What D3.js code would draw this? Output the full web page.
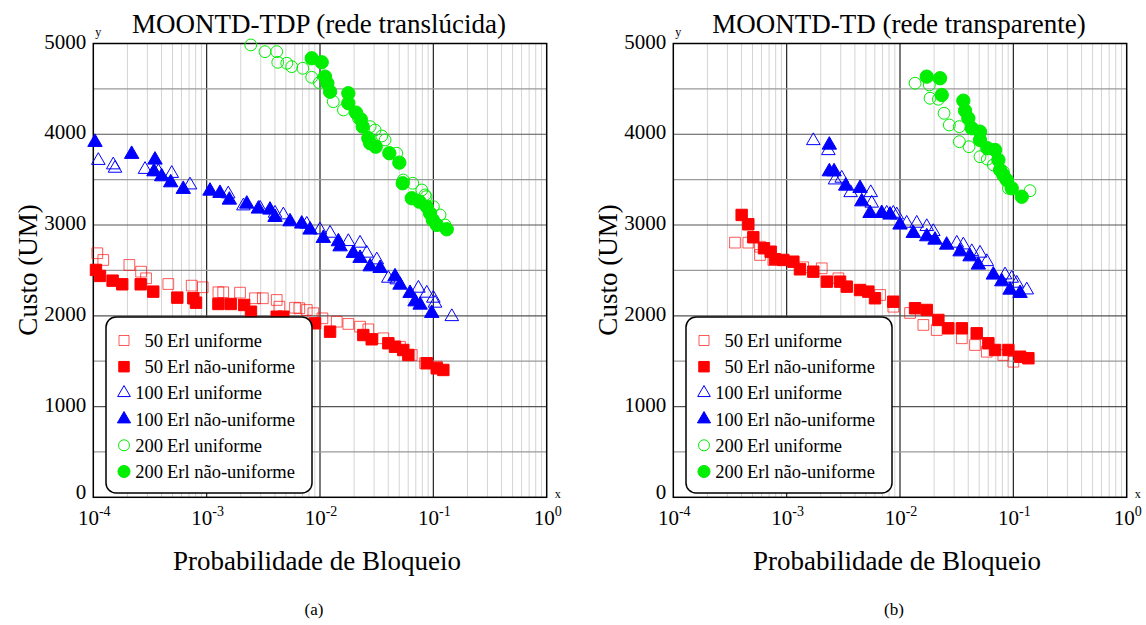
<!DOCTYPE html>
<html><head><meta charset="utf-8">
<script src="https://cdn.jsdelivr.net/npm/d3@7"></script>
<style>body{margin:0;background:#fff}</style>
</head><body><svg id="c" width="1146" height="625"></svg>
<script>
const titles = ["MOONTD-TDP (rede translúcida)", "MOONTD-TD (rede transparente)"];
const captions = ["(a)", "(b)"];
const xLabel = "Probabilidade de Bloqueio";
const yLabel = "Custo (UM)";
const xTickExps = [-4, -3, -2, -1, 0];
const yTicks = [0, 1000, 2000, 3000, 4000, 5000];
const legendNums = ["50", "50", "100", "100", "200", "200"];
const legendTexts = ["Erl uniforme", "Erl não-uniforme", "Erl uniforme", "Erl não-uniforme", "Erl uniforme", "Erl não-uniforme"];

// Panel (a): MOONTD-TDP  [blocking probability, cost]
const tdp50u = [[1.085e-4,2689],[1.225e-4,2615],[2.08e-4,2560],[2.64e-4,2486],[2.92e-4,2413],[4.59e-4,2350],[7.38e-4,2332],[9.23e-4,2314],[1.27e-3,2259],[1.40e-3,2259],[1.97e-3,2255],[2.67e-3,2193],[3.13e-3,2193],[4.15e-3,2174],[4.38e-3,2100],[6.02e-3,2089],[6.57e-3,2083],[7.64e-3,2064],[8.73e-3,2028],[0.0105,1972],[0.01405,1935],[0.01778,1910],[0.02256,1880],[0.0267,1851],[0.0362,1752],[0.0508,1659],[0.0645,1568],[0.0845,1477],[0.1072,1439]];
const tdp50n = [[1.056e-4,2505],[1.146e-4,2439],[1.48e-4,2387],[1.80e-4,2347],[2.62e-4,2347],[3.38e-4,2266],[5.51e-4,2200],[7.63e-4,2193],[8.06e-4,2144],[1.27e-3,2130],[1.63e-3,2130],[2.14e-3,2119],[2.46e-3,2045],[4.15e-3,1990],[4.75e-3,1990],[9.04e-3,1917],[0.01227,1825],[0.0241,1788],[0.0286,1741],[0.0401,1697],[0.0459,1659],[0.0543,1623],[0.0602,1568],[0.0875,1477],[0.1072,1421],[0.1225,1403]];
const tdp100u = [[1.107e-4,3711],[1.50e-4,3662],[1.554e-4,3625],[2.86e-4,3612],[3.75e-4,3588],[4.92e-4,3568],[7.13e-4,3441],[1.55e-3,3342],[2.11e-3,3210],[2.96e-3,3185],[4.01e-3,3129],[4.75e-3,3111],[7.64e-3,3008],[0.00999,2946],[0.01227,2909],[0.01778,2817],[0.02256,2799],[0.0258,2689],[0.0317,2615],[0.0401,2413],[0.0475,2395],[0.0738,2303],[0.0875,2248],[0.1,2193],[0.1035,2138],[0.1454,1990]];
const tdp100n = [[1.035e-4,3912],[2.18e-4,3780],[3.50e-4,3717],[3.43e-4,3588],[4.01e-4,3533],[4.82e-4,3467],[6.22e-4,3394],[1.07e-3,3375],[1.31e-3,3350],[1.585e-3,3276],[2.26e-3,3232],[2.86e-3,3177],[3.62e-3,3166],[4.01e-3,3085],[5.44e-3,3037],[6.90e-3,3012],[8.17e-3,2946],[0.0107,2854],[0.01452,2817],[0.01503,2761],[0.01968,2689],[0.02256,2634],[0.0277,2541],[0.0339,2523],[0.0459,2431],[0.0508,2339],[0.0623,2248],[0.0690,2155],[0.0764,2119],[0.0968,2028]];
const tdp200u = [[0.00245,4984],[0.00327,4910],[0.00415,4910],[0.00424,4793],[0.00509,4782],[0.00563,4745],[0.00705,4727],[0.00845,4628],[0.00986,4569],[0.0131,4359],[0.0161,4268],[0.0218,4176],[0.0277,4084],[0.0306,4047],[0.0351,3981],[0.0375,3937],[0.0475,3791],[0.0543,3496],[0.0658,3460],[0.0791,3386],[0.0845,3331],[0.0862,3312],[0.1,3202],[0.1146,3111],[0.1267,3001]];
const tdp200n = [[0.00845,4837],[0.01035,4793],[0.01107,4635],[0.01161,4562],[0.01227,4469],[0.01778,4452],[0.01778,4342],[0.0208,4238],[0.0229,4165],[0.0238,4084],[0.0267,3956],[0.0277,3901],[0.0310,3863],[0.0409,3791],[0.0501,3687],[0.0537,3460],[0.0645,3295],[0.0753,3257],[0.0875,3202],[0.0935,3129],[0.0989,3056],[0.1072,3001],[0.1313,2953]];

// Panel (b): MOONTD-TD
const td50u = [[3.50e-4,2806],[4.59e-4,2806],[5.82e-4,2761],[5.82e-4,2670],[7.63e-4,2615],[1.40e-3,2534],[2.04e-3,2523],[2.86e-3,2413],[6.67e-3,2229],[8.73e-3,2100],[0.01227,2031],[0.01607,1899],[0.0211,1843],[0.0351,1752],[0.0459,1678],[0.0583,1604],[0.0816,1568],[0.1,1494]];
const td50n = [[4.01e-4,3111],[4.59e-4,3008],[5.08e-4,2865],[6.31e-4,2744],[7.23e-4,2706],[7.89e-4,2623],[9.35e-4,2615],[1.146e-3,2596],[1.31e-3,2512],[1.719e-3,2486],[2.26e-3,2376],[2.96e-3,2376],[3.39e-3,2321],[4.44e-3,2284],[5.26e-3,2266],[6.02e-3,2193],[8.73e-3,2155],[0.01358,2083],[0.01722,2064],[0.0218,1954],[0.0267,1862],[0.0351,1862],[0.0475,1807],[0.0602,1697],[0.069,1623],[0.0904,1623],[0.1146,1549],[0.1357,1532]];
const td100u = [[1.719e-3,3929],[2.333e-3,3819],[2.673e-3,3496],[3.06e-3,3515],[3.67e-3,3356],[5.52e-3,3356],[5.63e-3,3240],[7.64e-3,3129],[8.73e-3,3129],[9.36e-3,3111],[0.01146,3019],[0.01405,3019],[0.01722,2982],[0.01968,2927],[0.0317,2799],[0.0362,2780],[0.043,2706],[0.0508,2689],[0.0583,2596],[0.0845,2450],[0.0968,2413],[0.1072,2358],[0.1313,2284]];
const td100n = [[2.38e-3,3882],[2.38e-3,3588],[2.62e-3,3588],[3.32e-3,3430],[4.44e-3,3405],[4.60e-3,3257],[5.44e-3,3129],[6.90e-3,3129],[8.17e-3,3111],[0.01,3001],[0.0131,2909],[0.01722,2872],[0.02037,2835],[0.0258,2780],[0.0339,2706],[0.0415,2651],[0.0491,2560],[0.0666,2450],[0.0791,2376],[0.0935,2284],[0.1146,2248]];
const td200u = [[0.01358,4562],[0.01815,4543],[0.01841,4397],[0.0218,4386],[0.02447,4231],[0.02725,4102],[0.03339,4084],[0.03339,3918],[0.04066,3863],[0.0508,3753],[0.059,3725],[0.0666,3662],[0.0816,3588],[0.0845,3515],[0.0904,3405],[0.1403,3378]];
const td200n = [[0.01722,4635],[0.02256,4617],[0.02335,4433],[0.0362,4370],[0.0375,4260],[0.0401,4176],[0.0430,4066],[0.0508,4029],[0.0508,3937],[0.059,3846],[0.069,3827],[0.0738,3717],[0.0764,3607],[0.0816,3551],[0.0875,3496],[0.0968,3405],[0.1186,3312]];

const panelData = [
  [tdp50u, tdp50n, tdp100u, tdp100n, tdp200u, tdp200n],
  [td50u, td50n, td100u, td100n, td200u, td200n]
];

const styles = [
  {type: d3.symbolSquare, size: 115, fill: "none", stroke: "rgba(255,0,0,0.65)", lsize: 100},
  {type: d3.symbolSquare, size: 130, fill: "#ff0000", stroke: "#ff0000", lsize: 110},
  {type: d3.symbolTriangle, size: 80, fill: "none", stroke: "#0000ff", lsize: 70},
  {type: d3.symbolTriangle, size: 90, fill: "#0000ff", stroke: "#0000ff", lsize: 75},
  {type: d3.symbolCircle, size: 110, fill: "none", stroke: "#00ee00", lsize: 95},
  {type: d3.symbolCircle, size: 140, fill: "#00ee00", stroke: "#00ee00", lsize: 115}
];

const FONT = "Liberation Serif";
const svg = d3.select("#c");
const panels = [{x0: 93.3, x1: 546.7}, {x0: 673.3, x1: 1126.7}];
const yBottom = 497.3, yTop = 43.5;

function txt(sel, size) {
  return sel.append("text").attr("font-family", FONT).attr("font-size", size).attr("fill", "#000");
}

panels.forEach((p, pi) => {
  const g = svg.append("g");
  const x = d3.scaleLog().domain([1e-4, 1]).range([p.x0, p.x1]);
  const y = d3.scaleLinear().domain([0, 5000]).range([yBottom, yTop]);

  x.ticks().forEach(v => {
    const lg = Math.log10(v);
    const major = Math.abs(lg - Math.round(lg)) < 1e-9;
    if (v <= 1e-4 || v >= 1) return;
    g.append("line").attr("x1", x(v)).attr("x2", x(v)).attr("y1", yBottom).attr("y2", yTop)
      .attr("stroke", major ? "#222" : "#d4d4d4").attr("stroke-width", major ? 1.2 : 1);
  });
  d3.range(500, 5000, 500).forEach(v => {
    const major = v % 1000 === 0;
    g.append("line").attr("x1", p.x0).attr("x2", p.x1).attr("y1", y(v)).attr("y2", y(v))
      .attr("stroke", major ? "#555" : "#999").attr("stroke-width", 1.2);
  });
  g.append("rect").attr("x", p.x0).attr("y", yTop).attr("width", p.x1 - p.x0).attr("height", yBottom - yTop)
    .attr("fill", "none").attr("stroke", "#000").attr("stroke-width", 1.5);

  panelData[pi].forEach((series, si) => {
    const st = styles[si];
    const sym = d3.symbol().type(st.type).size(st.size);
    g.append("g").selectAll("path").data(series).join("path")
      .attr("d", sym)
      .attr("transform", d => `translate(${x(d[0])},${y(d[1])})`)
      .attr("fill", st.fill).attr("stroke", st.stroke).attr("stroke-width", 1);
  });

  yTicks.forEach(d => {
    txt(g, 21).attr("x", p.x0 - 7).attr("y", y(d) + (d === 0 ? 2 : 5)).attr("text-anchor", "end").text(d);
  });
  xTickExps.forEach(e => {
    const t = txt(g, 21).attr("x", x(Math.pow(10, e)) + 1).attr("y", 525).attr("text-anchor", "middle");
    t.append("tspan").text("10");
    t.append("tspan").attr("dy", -9).attr("font-size", 14).text(String(e));
  });
  txt(g, 12).attr("x", p.x0 + 2).attr("y", 36).text("y");
  txt(g, 12).attr("x", p.x1 + 8).attr("y", 498).text("x");

  const cx = (p.x0 + p.x1) / 2;
  txt(g, 27).attr("x", cx - 1).attr("y", 33).attr("text-anchor", "middle").text(titles[pi]);
  txt(g, 27).attr("x", cx - 3).attr("y", 570).attr("text-anchor", "middle").text(xLabel);
  txt(g, 27).attr("transform", `translate(${p.x0 - 56},270) rotate(-90)`).attr("text-anchor", "middle").text(yLabel);
  txt(g, 17).attr("x", cx - 6).attr("y", 615).attr("text-anchor", "middle").text(captions[pi]);

  const lx = p.x0 + 12.7, ly = 317;
  const lg = g.append("g");
  lg.append("rect").attr("x", lx).attr("y", ly).attr("width", 206).attr("height", 176).attr("rx", 10).attr("ry", 10)
    .attr("fill", "#fff").attr("stroke", "#000").attr("stroke-width", 1.5);
  legendTexts.forEach((t, i) => {
    const by = ly + 30 + i * 26.2;
    const st = styles[i];
    lg.append("path").attr("d", d3.symbol().type(st.type).size(st.lsize)())
      .attr("transform", `translate(${lx + 18},${by - 6.5})`)
      .attr("fill", st.fill).attr("stroke", st.stroke).attr("stroke-width", 1);
    txt(lg, 18.5).attr("x", lx + 57).attr("y", by).attr("text-anchor", "end").text(legendNums[i]);
    txt(lg, 18.5).attr("x", lx + 61).attr("y", by).text(t);
  });
});
</script></body></html>
